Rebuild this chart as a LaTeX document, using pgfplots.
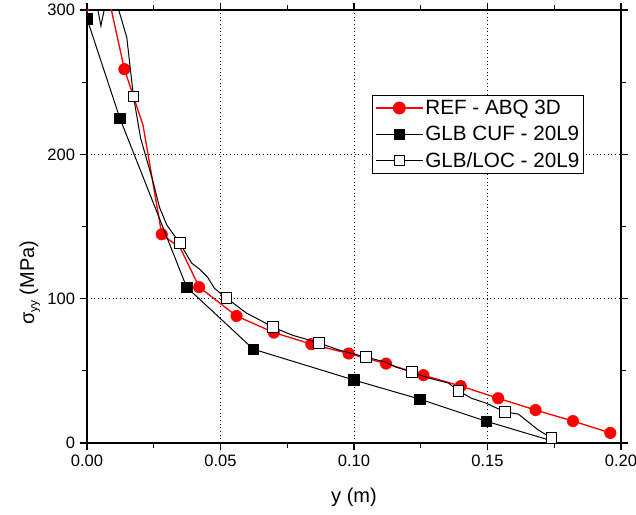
\documentclass[border=0pt]{standalone}
\usepackage{fontspec}
\setmainfont{Liberation Sans}
\usepackage{pgfplots}
\pgfplotsset{compat=1.18}
\begin{document}
\begin{tikzpicture}
\begin{axis}[
  scale only axis,
  width=400.5pt, height=324.75pt,
  xmin=0, xmax=0.2, ymin=0, ymax=300,
  xtick={0,0.05,0.1,0.15,0.2},
  xticklabels={0.00,0.05,0.10,0.15,0.20},
  ytick={0,100,200,300},
  yticklabels={0,100,200,300},
  minor xtick={0.025,0.075,0.125,0.175},
  minor ytick={50,150,250},
  grid=major,
  major grid style={dash pattern=on 0.75pt off 2pt, black, line width=0.6pt},
  tick align=outside,
  major tick length=5.5pt, minor tick length=3.5pt,
  every tick/.style={black, line width=0.8pt},
  axis line style={line width=1.1pt},
  tick label style={font=\fontsize{12.4}{14}\selectfont},
  xlabel={y (m)},
  ylabel={σ\raisebox{-0.35ex}{\fontsize{9}{10}\selectfont yy} (MPa)},
  xlabel style={font=\fontsize{15}{18}\selectfont, at={(axis description cs:0.5,-0.125)}, anchor=center},
  ylabel style={font=\fontsize{15}{18}\selectfont, at={(axis description cs:-0.107,0.37)}, anchor=center},
  clip marker paths=true,
  legend style={at={(axis description cs:0.534,0.804)}, anchor=north west,
    draw=black, fill=white, line width=0.8pt,
    font=\fontsize{15.5}{18}\selectfont, inner xsep=2pt, inner ysep=1.8pt,
    row sep=4.3pt, nodes={inner sep=1.5pt}},
  legend cell align=left,
  legend image code/.code={\draw[mark repeat=2,mark phase=2] plot coordinates {(0pt,0pt) (17.5pt,0pt) (35pt,0pt)};},
]
\coordinate (SW) at (rel axis cs:0,0);
\coordinate (NE) at (rel axis cs:1,1);

% REF - ABQ 3D : full line
\addplot[red, line width=1pt, forget plot] coordinates {
(0,299) (0.007,318) (0.014,259) (0.021,220) (0.028,144.6) (0.035,135) (0.042,108)
(0.056,88) (0.070,76.5) (0.084,68.5) (0.098,62) (0.112,55) (0.126,47) (0.140,39.4)
(0.154,31) (0.168,22.8) (0.182,15.2) (0.196,7)
};
% REF - ABQ 3D : markers
\addplot[only marks, mark=*, mark size=4.3pt, mark options={fill=red, draw=red}, forget plot] coordinates {
(0.014,259) (0.028,144.6) (0.042,108)
(0.056,88) (0.070,76.5) (0.084,68.5) (0.098,62) (0.112,55) (0.126,47) (0.140,39.4)
(0.154,31) (0.168,22.8) (0.182,15.2) (0.196,7)
};

% GLB CUF - 20L9 : line
\addplot[black, line width=0.75pt, forget plot] coordinates {
(0,294) (0.0123,225) (0.0373,108) (0.0623,65) (0.1,43.6) (0.1246,30.4) (0.1496,15) (0.175,1)
};
% GLB CUF - 20L9 : markers
\addplot[only marks, mark=square*, mark size=4pt, mark options={fill=black, draw=black}, forget plot] coordinates {
(0,294) (0.0123,225) (0.0373,108) (0.0623,65) (0.1,43.6) (0.1246,30.4) (0.1496,15)
};

% GLB/LOC - 20L9 : line
\addplot[black, line width=0.75pt, forget plot] coordinates {
(0,340) (0.0052,289) (0.0087,320) (0.0149,281) (0.0174,240)
(0.0201,211) (0.0246,182) (0.0272,163) (0.0299,151) (0.0348,138.4)
(0.0392,124.6) (0.0422,120.4) (0.0451,115) (0.0478,107) (0.0522,100.5)
(0.0597,90) (0.0634,86.5) (0.0696,80.3)
(0.0769,74.7) (0.0832,71.3) (0.087,69.2)
(0.0944,64.4) (0.1044,59.5)
(0.112,56) (0.1157,52.6) (0.1218,49.1)
(0.128,45) (0.1354,41.5) (0.1392,36)
(0.144,31) (0.1493,27.7) (0.1566,21.5)
(0.1616,20) (0.169,9) (0.174,3.5)
};
% GLB/LOC - 20L9 : markers
\addplot[only marks, mark=square*, mark size=4pt, mark options={fill=white, draw=black, line width=0.75pt}, forget plot] coordinates {
(0.0174,240) (0.0348,138.4) (0.0522,100.5) (0.0696,80.3) (0.087,69.2)
(0.1044,59.5) (0.1218,49.1) (0.1392,36) (0.1566,21.5) (0.174,3.5)
};

\addlegendimage{red, line width=1pt, mark=*, mark size=4.3pt, mark options={fill=red, draw=red}}
\addlegendentry{REF - ABQ 3D}
\addlegendimage{black, line width=0.75pt, mark=square*, mark size=3.8pt, mark options={fill=black}}
\addlegendentry{GLB CUF - 20L9}
\addlegendimage{black, line width=0.75pt, mark=square*, mark size=3.8pt, mark options={fill=white, draw=black}}
\addlegendentry{GLB/LOC - 20L9}
\end{axis}
\pgfresetboundingbox
\path[use as bounding box] ([xshift=-65.25pt, yshift=-54pt]SW) rectangle ([xshift=11.25pt, yshift=7.5pt]NE);
\end{tikzpicture}
\end{document}
